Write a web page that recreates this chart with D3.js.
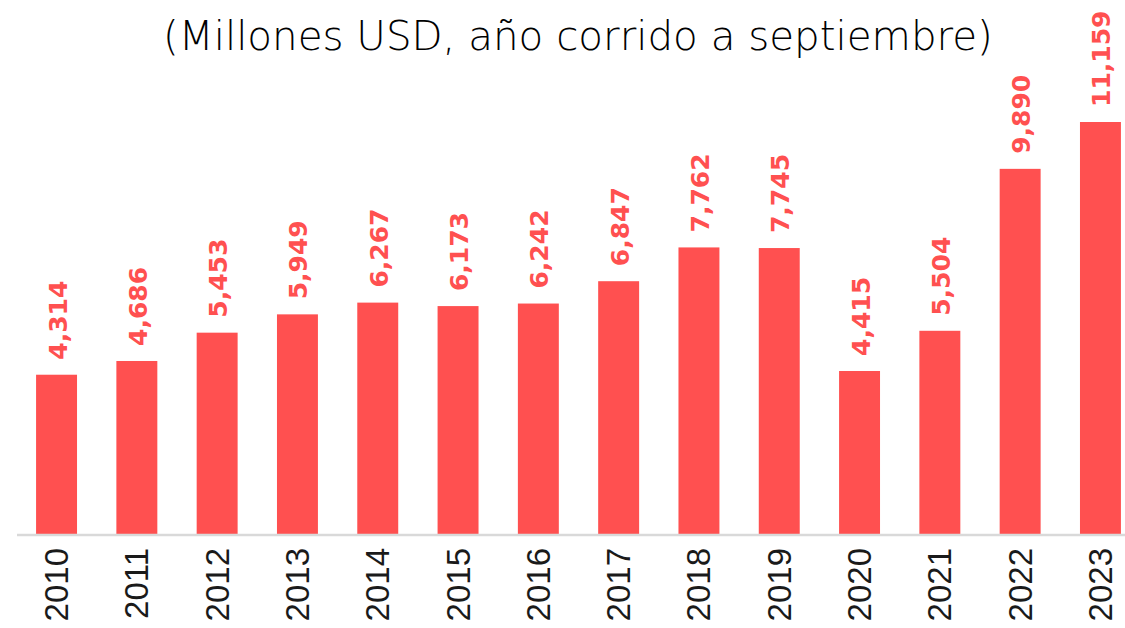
<!DOCTYPE html>
<html>
<head>
<meta charset="utf-8">
<script src="https://cdn.jsdelivr.net/npm/d3@7"></script>
<style>
  html, body { margin: 0; padding: 0; background: #ffffff; }
  svg { display: block; }
</style>
</head>
<body>
<svg id="chart" width="1125" height="628"></svg>
<script>
// Annual values, millions of USD (January–September of each year)
const years = ["2010","2011","2012","2013","2014","2015","2016","2017","2018","2019","2020","2021","2022","2023"];
const values = [4314, 4686, 5453, 5949, 6267, 6173, 6242, 6847, 7762, 7745, 4415, 5504, 9890, 11159];
const subtitle = "(Millones USD, año corrido a septiembre)";

const barColor = "#FF5050";
const svg = d3.select("#chart");

const data = years.map((y, i) => ({ year: y, value: values[i] }));

const x = d3.scaleBand()
  .domain(years)
  .range([16.4, 1140.6])
  .paddingInner(0.49)
  .paddingOuter(0.245);

const y = d3.scaleLinear()
  .domain([0, 11159])
  .range([534, 122]);

// Subtitle, stretched to its line width
const sub = svg.append("text")
  .attr("x", 578)
  .attr("y", 50)
  .attr("text-anchor", "middle")
  .style("font-family", "'Century Gothic', 'DejaVu Sans', sans-serif")
  .style("font-weight", 200)
  .style("font-size", "38px")
  .style("fill", "#000")
  .text(subtitle);
const w = sub.node().getComputedTextLength();
sub.style("font-size", (38 * 830 / w) + "px");

// Bars
svg.append("g")
  .selectAll("rect")
  .data(data)
  .join("rect")
  .attr("x", d => x(d.year))
  .attr("width", x.bandwidth())
  .attr("y", d => y(d.value))
  .attr("height", d => y(0) - y(d.value))
  .attr("fill", barColor);

// Baseline
svg.append("line")
  .attr("x1", 17).attr("x2", 1125)
  .attr("y1", 535).attr("y2", 535)
  .attr("stroke", "#d9d9d9")
  .attr("stroke-width", 2.5);

// Value labels, rotated above each bar
const fmt = d3.format(",");
svg.append("g")
  .selectAll("text")
  .data(data)
  .join("text")
  .attr("transform", d => `translate(${x(d.year) + x.bandwidth() / 2 + 1.5},${y(d.value) - 15}) rotate(-90)`)
  .attr("text-anchor", "start")
  .attr("dominant-baseline", "central")
  .style("font-family", "'Century Gothic', 'DejaVu Sans', sans-serif")
  .style("font-weight", "bold")
  .style("font-size", "25px")
  .style("fill", barColor)
  .text(d => fmt(d.value));

// Category axis labels
const xAxis = d3.axisBottom(x).tickSize(0).tickPadding(0);
const gx = svg.append("g")
  .attr("transform", "translate(0,535)")
  .call(xAxis);
gx.select(".domain").remove();
gx.selectAll("text")
  .attr("transform", "translate(0,13) rotate(-90)")
  .attr("x", 0)
  .attr("y", 0)
  .attr("dy", null)
  .attr("text-anchor", "end")
  .attr("dominant-baseline", "central")
  .style("font-family", "'Liberation Sans', Arial, sans-serif")
  .style("font-size", "33px")
  .style("fill", "#1a1a1a");
</script>
</body>
</html>
